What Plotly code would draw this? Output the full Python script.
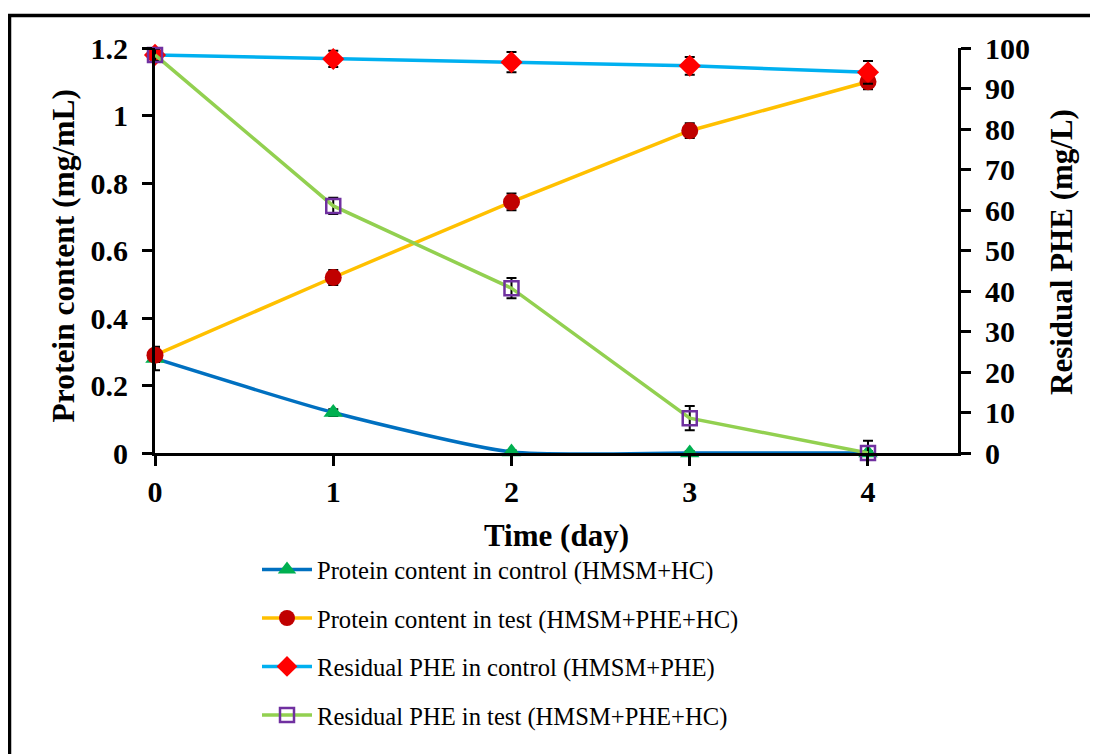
import plotly.graph_objects as go

days = [0, 1, 2, 3, 4]
protein_control = [0.28, 0.12, 0.003, 0.0, 0.0]
protein_control_err = [0.035, 0.01, 0.005, 0.005, 0.005]
protein_test = [0.29, 0.52, 0.744, 0.955, 1.10]
protein_test_err = [0.02, 0.022, 0.025, 0.022, 0.022]
phe_control = [98.3, 97.3, 96.5, 95.6, 94.0]
phe_control_err = [1.5, 2.0, 2.5, 2.2, 2.8]
phe_test = [98.3, 61.0, 40.7, 8.6, 0.0]
phe_test_err = [1.5, 2.0, 2.5, 3.0, 3.0]

names = [
    "Protein content in control (HMSM+HC)",
    "Protein content in test (HMSM+PHE+HC)",
    "Residual PHE in control (HMSM+PHE)",
    "Residual PHE in test (HMSM+PHE+HC)",
]

FONT = "Liberation Serif, Times New Roman, serif"

# plot area in figure pixels (page is offset by 8px body margin)
L, T, W, H = 147, 40, 803, 405
FW, FH = 1098, 754

def px(xf):
    return (xf - L) / W

def py(yf):
    return 1 - (yf - T) / H

def eb(arr):
    return dict(type="data", array=arr, visible=True, color="black", thickness=2, width=5)

fig = go.Figure()
fig.add_trace(go.Scatter(
    x=days, y=protein_control, name=names[0], mode="lines+markers",
    line=dict(color="#0070C0", width=3.5, shape="spline", smoothing=0.6),
    marker=dict(symbol="triangle-up", size=17, color="#00B050"),
    error_y=eb(protein_control_err), cliponaxis=False, legendgroup="a", yaxis="y"))
fig.add_trace(go.Scatter(
    x=days, y=protein_test, name=names[1], mode="lines+markers",
    line=dict(color="#FFC000", width=3.5),
    marker=dict(symbol="circle", size=17, color="#C00000"),
    error_y=eb(protein_test_err), cliponaxis=False, legendgroup="b", yaxis="y"))
fig.add_trace(go.Scatter(
    x=days, y=phe_control, name=names[2], mode="lines+markers",
    line=dict(color="#00B0F0", width=3.5),
    marker=dict(symbol="diamond", size=17, color="#FF0000"),
    error_y=eb(phe_control_err), cliponaxis=False, legendgroup="c", yaxis="y2"))
fig.add_trace(go.Scatter(
    x=days, y=phe_test, name=names[3], mode="lines+markers",
    line=dict(color="#92D050", width=3.5),
    marker=dict(symbol="square-open", size=14, color="#7030A0", line=dict(width=2.5, color="#7030A0")),
    error_y=eb(phe_test_err), cliponaxis=False, legendgroup="d", yaxis="y2"))

tickfont = dict(family=FONT, size=30, color="black", weight="bold")

axis_common = dict(
    showgrid=False, zeroline=False, showline=True, linecolor="black", linewidth=3,
    ticks="outside", ticklen=10, tickwidth=2.5, tickcolor="black",
    tickfont=tickfont)

fig.update_layout(
    width=FW, height=FH,
    margin=dict(l=L, r=FW - L - W, t=T, b=FH - T - H, autoexpand=False),
    paper_bgcolor="white", plot_bgcolor="white",
    font=dict(family=FONT, color="black"),
    xaxis=dict(range=[0, 4.505], tickvals=days, ticktext=[str(d) for d in days],
               ticklabelstandoff=0, **axis_common),
    yaxis=dict(range=[0, 1.2], dtick=0.2, tickformat="~g", ticklabelstandoff=8, **axis_common),
    yaxis2=dict(range=[0, 100], dtick=10, overlaying="y", side="right",
                ticklabelstandoff=8, **axis_common),
    legend=dict(
        x=px(249), y=py(539), xanchor="left", yanchor="top",
        font=dict(family=FONT, size=24.6, color="black"),
        traceorder="grouped", tracegroupgap=13.5, itemwidth=50,
        bgcolor="rgba(0,0,0,0)"),
    showlegend=True,
)

fig.add_annotation(text="<b>Time (day)</b>", xref="paper", yref="paper",
                   x=px(548), y=py(527), xanchor="center", yanchor="middle",
                   showarrow=False, font=dict(family=FONT, size=31, color="black"))
fig.add_annotation(text="<b>Protein content (mg/mL)</b>", xref="paper", yref="paper",
                   x=px(54.5), y=py(248), xanchor="center", yanchor="middle", textangle=-90,
                   showarrow=False, font=dict(family=FONT, size=31.5, color="black"))
fig.add_annotation(text="<b>Residual PHE (mg/L)</b>", xref="paper", yref="paper",
                   x=px(1054), y=py(244), xanchor="center", yanchor="middle", textangle=-90,
                   showarrow=False, font=dict(family=FONT, size=31, color="black"))

# outer frame
fig.add_shape(type="rect", xref="paper", yref="paper",
              x0=px(1.5), x1=px(1120), y0=py(780), y1=py(7.5),
              line=dict(color="black", width=3.5), fillcolor="rgba(0,0,0,0)", layer="above")

fig.write_html("out.html")
